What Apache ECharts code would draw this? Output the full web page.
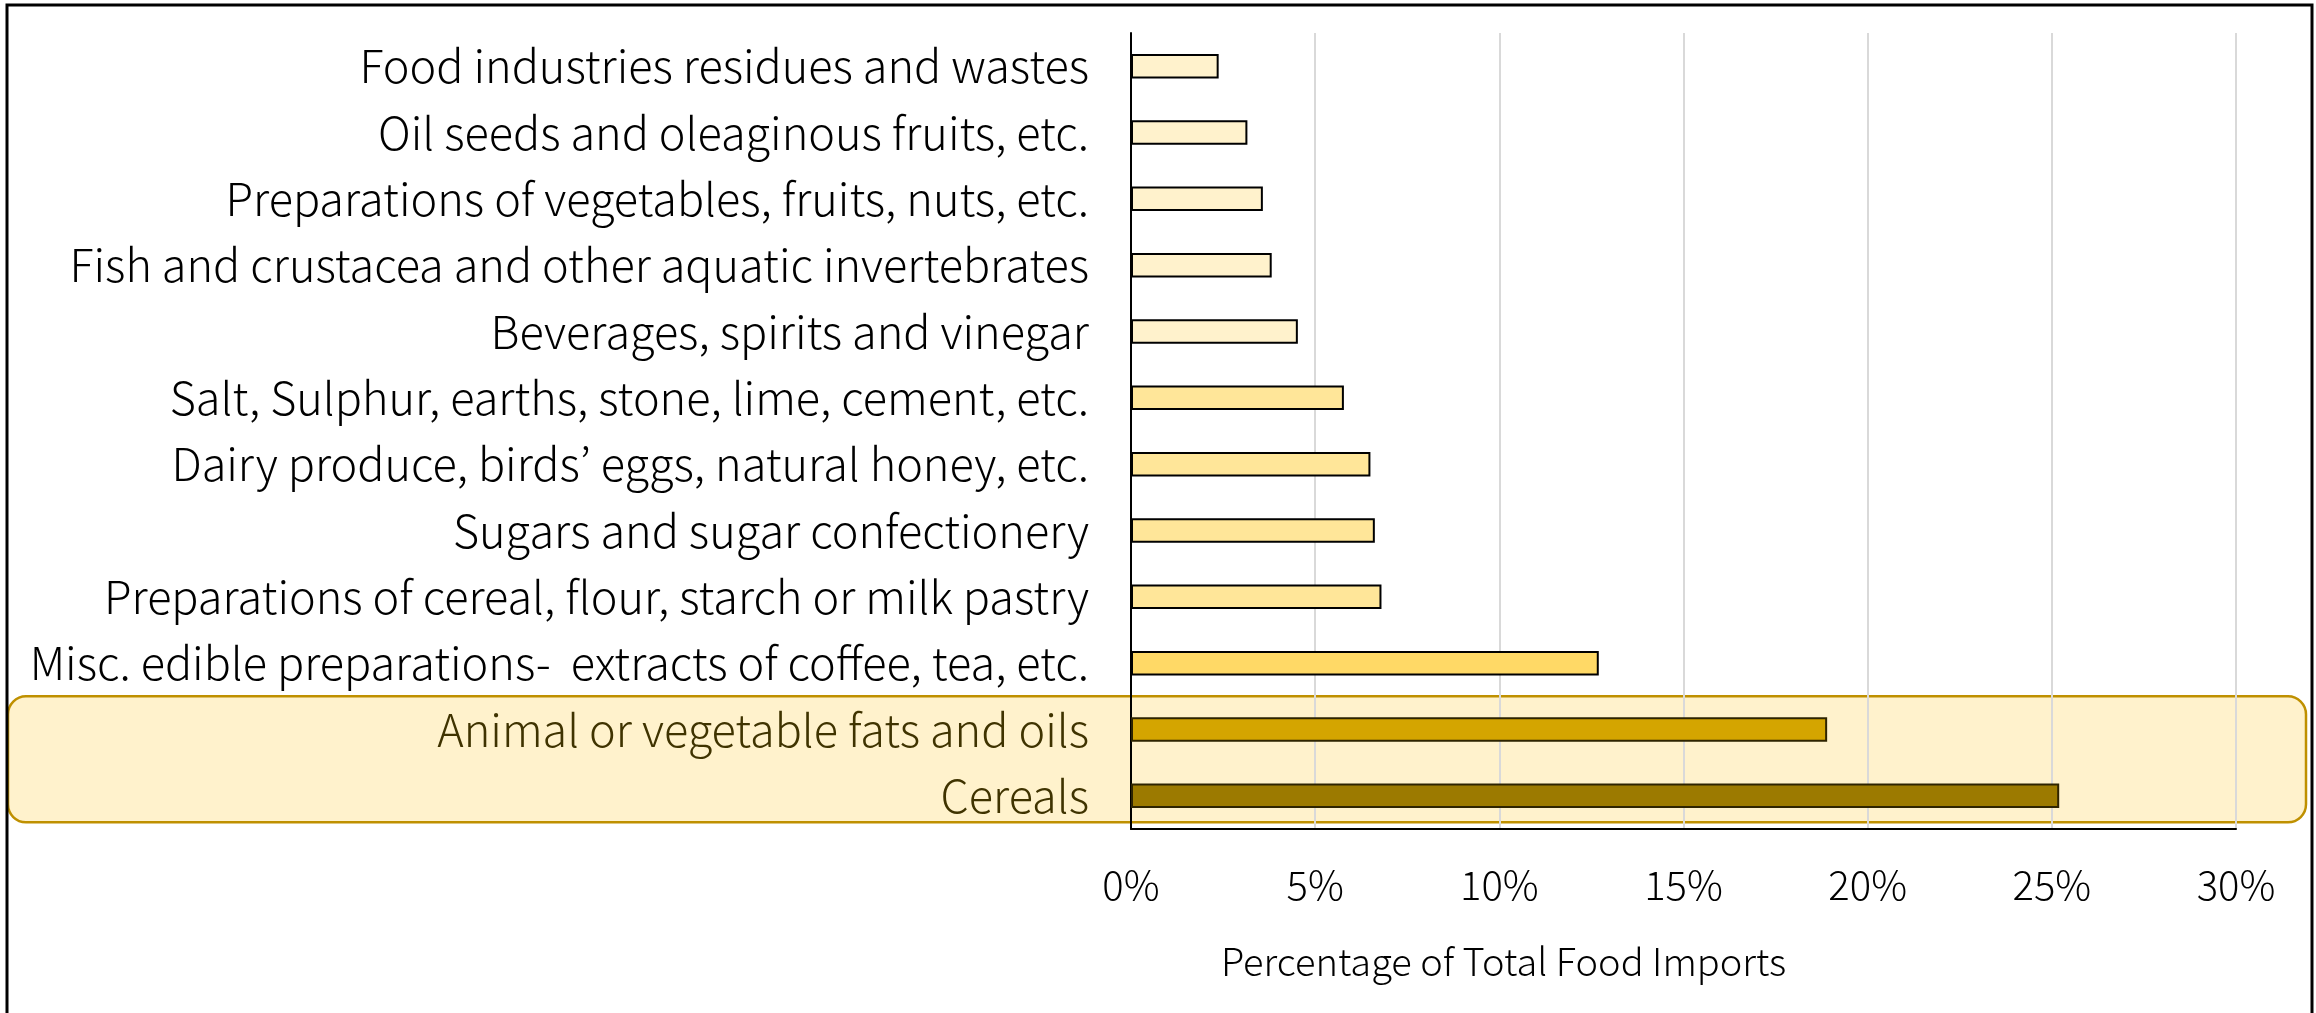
<!DOCTYPE html>
<html>
<head>
<meta charset="utf-8">
<script src="https://cdn.jsdelivr.net/npm/echarts@6/dist/echarts.min.js"></script>
<style>
html,body{margin:0;padding:0;background:#fff;}
#chart{width:2316px;height:1013px;}
</style>
</head>
<body>
<div id="chart"></div>
<script>
// Categories listed top to bottom
const categories = [
  "Food industries residues and wastes",
  "Oil seeds and oleaginous fruits, etc.",
  "Preparations of vegetables, fruits, nuts, etc.",
  "Fish and crustacea and other aquatic invertebrates",
  "Beverages, spirits and vinegar",
  "Salt, Sulphur, earths, stone, lime, cement, etc.",
  "Dairy produce, birds\u2019 eggs, natural honey, etc.",
  "Sugars and sugar confectionery",
  "Preparations of cereal, flour, starch or milk pastry",
  "Misc. edible preparations-  extracts of coffee, tea, etc.",
  "Animal or vegetable fats and oils",
  "Cereals"
];
const shares = [2.38, 3.16, 3.58, 3.82, 4.53, 5.78, 6.5, 6.62, 6.8, 12.7, 18.9, 25.2];
const barColors = ["#FFF2CC","#FFF2CC","#FFF2CC","#FFF2CC","#FFF2CC",
  "#FFE699","#FFE699","#FFE699","#FFE699","#FFD966","#D4A500","#9C7A00"];
const highlighted = ["Animal or vegetable fats and oils", "Cereals"];
const xTicks = [0, 5, 10, 15, 20, 25, 30];

const FONT = "'Noto Sans CJK JP', 'Noto Sans', sans-serif";
const chart = echarts.init(document.getElementById('chart'), null, {renderer: 'canvas'});

const option = {
  backgroundColor: '#ffffff',
  animation: false,
  grid: {left: 1131, right: 80, top: 33, bottom: 184, containLabel: false},
  xAxis: {
    type: 'value',
    min: xTicks[0], max: xTicks[xTicks.length - 1], interval: 5,
    axisLine: {show: true, lineStyle: {color: '#000', width: 2}},
    axisTick: {show: false},
    splitLine: {show: true, lineStyle: {color: '#d9d9d9', width: 2}},
    axisLabel: {
      margin: 36, fontFamily: FONT, fontSize: 40, color: '#000', fontWeight: 300,
      formatter: v => v + '%'
    },
    name: 'Percentage of Total Food Imports',
    nameLocation: 'middle',
    nameGap: 114,
    nameTextStyle: {fontFamily: FONT, fontSize: 38, color: '#000', fontWeight: 300, padding: [0, 360, 0, 0]}
  },
  yAxis: {
    type: 'category',
    data: categories,
    inverse: true,
    axisLine: {show: true, lineStyle: {color: '#000', width: 2}},
    axisTick: {show: false},
    splitLine: {show: false},
    axisLabel: {
      margin: 42, fontFamily: FONT, fontSize: 45, fontWeight: 300,
      color: (val) => highlighted.includes(val) ? '#3F3300' : '#000'
    }
  },
  series: [{
    type: 'bar',
    barWidth: '37%',
    z: 3,
    data: shares.map((v, i) => ({
      value: v,
      itemStyle: {
        color: barColors[i],
        borderColor: highlighted.includes(categories[i]) ? '#2E2400' : '#000',
        borderWidth: 2
      }
    }))
  }]
};
chart.setOption(option);

// Highlight box around the highlighted categories, placed from the axis scale
const firstIdx = categories.indexOf(highlighted[0]);
const lastIdx = categories.indexOf(highlighted[highlighted.length - 1]);
const pTop = chart.convertToPixel({gridIndex: 0}, [0, categories[firstIdx]]);
const pBot = chart.convertToPixel({gridIndex: 0}, [0, categories[lastIdx]]);
const band = (pBot[1] - pTop[1]) / Math.max(1, lastIdx - firstIdx);
const boxTop = pTop[1] - band * 0.5;
const boxBot = pBot[1] + band * 0.4;
chart.setOption({
  graphic: {elements: [
    {
      type: 'rect', z: -10, silent: true,
      shape: {x: 8, y: boxTop, width: 2298, height: boxBot - boxTop, r: 18},
      style: {fill: '#FFF2CC', stroke: '#BF9000', lineWidth: 2.5}
    },
    {
      type: 'rect', z: 100, silent: true,
      shape: {x: 7, y: 5, width: 2305, height: 1030},
      style: {fill: 'none', stroke: '#000', lineWidth: 3}
    }
  ]}
});
</script>
</body>
</html>
